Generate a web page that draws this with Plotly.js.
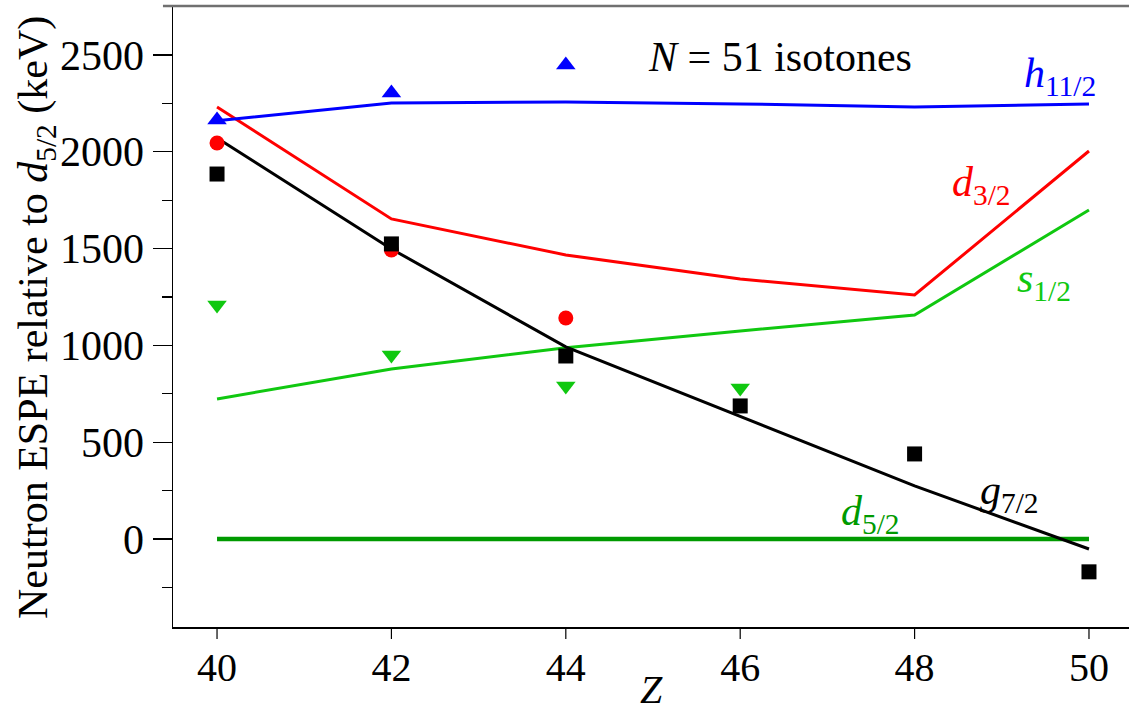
<!DOCTYPE html>
<html>
<head>
<meta charset="utf-8">
<script src="https://cdn.plot.ly/plotly-3.0.1.min.js"></script>
<style>html,body{margin:0;padding:0;background:#fff;}#chart{width:1129px;height:713px;}
#chart text{font-family:"Liberation Serif", serif !important;}</style>
</head>
<body>
<div id="chart"></div>
<script>
// Calculated ESPE lines (keV)
const Z = [40, 42, 44, 46, 48, 50];
const h112Calc = [2160, 2252, 2257, 2247, 2231, 2247];
const d32Calc  = [2231, 1653, 1467, 1343, 1260, 2004];
const g72Calc  = [2071, 1498, 992, 635, 274, -52];
const s12Calc  = [723, 878, 987, 1074, 1157, 1699];
const d52Calc  = [0, 0, 0, 0, 0, 0];

// Experimental points
const h112ExpZ = [40, 42, 44];
const h112Exp  = [2164, 2304, 2448];
const d32ExpZ  = [40, 42, 44];
const d32Exp   = [2045, 1493, 1141];
const g72ExpZ  = [40, 42, 44, 46, 48, 50];
const g72Exp   = [1885, 1524, 945, 687, 439, -170];
const s12ExpZ  = [40, 42, 44, 46];
const s12Exp   = [1209, 950, 790, 780];

const xTicks = [40, 42, 44, 46, 48, 50];
const yTicks = [0, 500, 1000, 1500, 2000, 2500];

const serif = 'Liberation Serif';
const BLUE = '#0000ff', RED = '#ff0000', BLACK = '#000000', GREEN = '#10c810', DGREEN = '#009a00';

const lineTrace = (y, color, width) => ({x: Z, y: y, mode: 'lines', type: 'scatter',
  line: {color: color, width: width || 3}, hoverinfo: 'skip'});
const ptTrace = (x, y, color, symbol, size) => ({x: x, y: y, mode: 'markers', type: 'scatter',
  marker: {color: color, symbol: symbol, size: size}, hoverinfo: 'skip'});

const data = [
  lineTrace(d52Calc, DGREEN, 4.5),
  lineTrace(s12Calc, GREEN),
  lineTrace(d32Calc, RED),
  lineTrace(h112Calc, BLUE),
  lineTrace(g72Calc, BLACK),
  ptTrace(s12ExpZ, s12Exp, GREEN, 'triangle-down', 17),
  ptTrace(h112ExpZ, h112Exp, BLUE, 'triangle-up', 17),
  ptTrace(d32ExpZ, d32Exp, RED, 'circle', 15),
  ptTrace(g72ExpZ, g72Exp, BLACK, 'square', 15)
];

const ann = (x, y, text, color, size) => ({x: x, y: y, xref: 'x', yref: 'y', text: text,
  showarrow: false, font: {family: serif, size: size || 40, color: color}, xanchor: 'center', yanchor: 'middle'});

// x tick marks (drawn as short lines below the axis, 12 px long)
const plotH = 713 - 6 - 86;
const xTickMarks = xTicks.map(v => ({type: 'line', xref: 'x', yref: 'paper', x0: v, x1: v,
  y0: 0, y1: -12 / plotH, line: {color: '#000', width: 1.2}}));

const layout = {
  width: 1129, height: 713,
  margin: {l: 173, r: 0, t: 6, b: 86},
  paper_bgcolor: '#ffffff', plot_bgcolor: '#ffffff',
  showlegend: false,
  font: {family: serif, color: '#000'},
  xaxis: {
    range: [39.495, 50.459], tickvals: xTicks, ticktext: xTicks.map(String),
    ticks: '', ticklabelstandoff: 4,
    showline: true, linecolor: '#000', linewidth: 1.5, showgrid: false, zeroline: false,
    tickfont: {family: serif, size: 40, color: '#000'},
    title: {text: ''}
  },
  yaxis: {
    range: [-455, 2753], tickvals: yTicks, ticktext: yTicks.map(String),
    ticks: 'outside', ticklen: 19, tickwidth: 1.2, tickcolor: '#000',
    minor: {tickvals: [-250, 250, 750, 1250, 1750, 2250], ticks: 'outside', ticklen: 10, tickcolor: '#000', tickwidth: 1.2, showgrid: false},
    showline: true, linecolor: '#000', linewidth: 1.5, showgrid: false, zeroline: false,
    tickfont: {family: serif, size: 42, color: '#000'},
    title: {text: ''}
  },
  shapes: [
    {type: 'line', xref: 'paper', yref: 'paper', x0: -0.0105, x1: 1, y0: 1, y1: 1,
     line: {color: '#707070', width: 2.5}}
  ].concat(xTickMarks),
  annotations: [
    ann(46.46, 2490, '<i>N</i> = 51 isotones', BLACK, 42),
    ann(49.67, 2390, '<i>h</i><sub>11/2</sub>', BLUE, 42),
    ann(48.77, 1830, '<i>d</i><sub>3/2</sub>', RED, 42),
    ann(49.48, 1330, '<i>s</i><sub>1/2</sub>', GREEN, 42),
    ann(49.09, 235, '<i>g</i><sub>7/2</sub>', BLACK, 42),
    ann(47.49, 130, '<i>d</i><sub>5/2</sub>', DGREEN, 42),
    {xref: 'paper', yref: 'paper', x: 0, y: 0.4976, xshift: -137, textangle: -90,
     text: 'Neutron ESPE relative to <i>d</i><sub>5/2</sub> (keV)', showarrow: false,
     font: {family: serif, size: 42, color: '#000'}, xanchor: 'center', yanchor: 'middle'},
    {xref: 'paper', yref: 'paper', x: 0.5, y: -0.1014, text: '<i>Z</i>', showarrow: false,
     font: {family: serif, size: 40, color: '#000'}, xanchor: 'center', yanchor: 'middle'}
  ]
};

Plotly.newPlot('chart', data, layout, {displayModeBar: false, staticPlot: true});
</script>
</body>
</html>
